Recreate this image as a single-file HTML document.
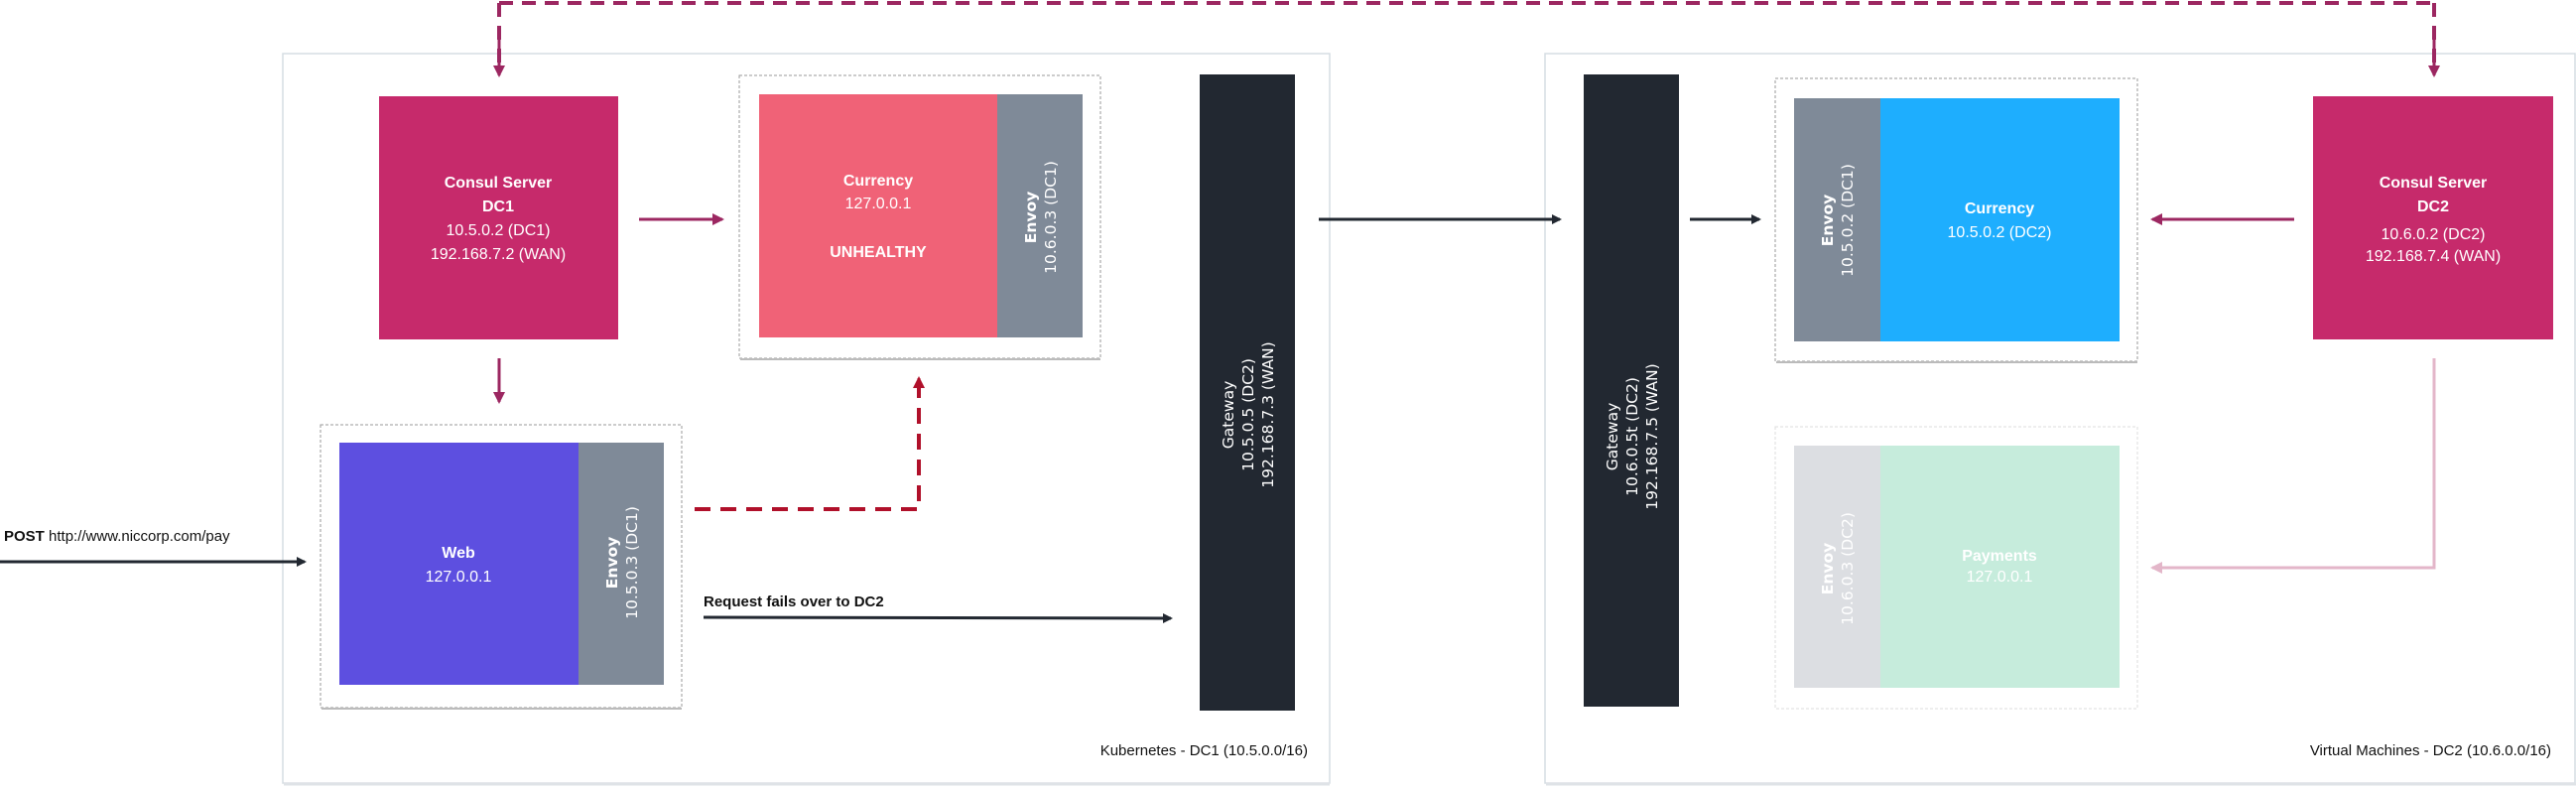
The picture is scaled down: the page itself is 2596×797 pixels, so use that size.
<!DOCTYPE html>
<html><head><meta charset="utf-8"><style>
html,body{margin:0;padding:0;background:#fff;}
svg{display:block;}
.c{font-family:"Liberation Sans",sans-serif;fill:#fff;text-anchor:middle;font-size:16px;}
.b{font-weight:bold;}
.r{font-family:"DejaVu Sans",sans-serif;text-anchor:middle;font-size:15.5px;fill:#fff;}
.l{font-family:"Liberation Sans",sans-serif;font-size:15px;fill:#111;}
</style></head><body>
<svg width="2596" height="797" viewBox="0 0 2596 797" xmlns="http://www.w3.org/2000/svg">
<defs>
<marker id="ad" markerWidth="10" markerHeight="10" refX="8" refY="5" orient="auto" markerUnits="userSpaceOnUse"><path d="M0,0 L10,5 L0,10 z" fill="#222831"/></marker>
<marker id="am" markerWidth="12" markerHeight="12" refX="10" refY="6" orient="auto" markerUnits="userSpaceOnUse"><path d="M0,0 L12,6 L0,12 z" fill="#9c2761"/></marker>
<marker id="ar" markerWidth="12" markerHeight="12" refX="10" refY="6" orient="auto" markerUnits="userSpaceOnUse"><path d="M0,0 L12,6 L0,12 z" fill="#b0102a"/></marker>
<marker id="ap" markerWidth="12" markerHeight="12" refX="10" refY="6" orient="auto" markerUnits="userSpaceOnUse"><path d="M0,0 L12,6 L0,12 z" fill="#e3b6c9"/></marker>
</defs>
<rect x="285" y="54" width="1055" height="735" fill="#fff" stroke="#d6dde3" stroke-width="1.5"/>
<line x1="286" y1="790" x2="1340" y2="790" stroke="#dfe3e7" stroke-width="3"/>
<rect x="1557" y="54" width="1038" height="735" fill="#fff" stroke="#d6dde3" stroke-width="1.5"/>
<line x1="1558" y1="790" x2="2596" y2="790" stroke="#dfe3e7" stroke-width="3"/>
<path d="M503,3 H2453 M503,3 V68 M2453,3 V68" fill="none" stroke="#9c2761" stroke-width="4" stroke-dasharray="14,9"/>
<line x1="503" y1="40" x2="503" y2="76" stroke="#9c2761" stroke-width="3" marker-end="url(#am)"/>
<line x1="2453" y1="40" x2="2453" y2="76" stroke="#9c2761" stroke-width="3" marker-end="url(#am)"/>
<rect x="382" y="97" width="241" height="245" fill="#c62a6b"/>
<text class="c"><tspan class="b" x="502" y="189">Consul Server</tspan><tspan class="b" x="502" y="213">DC1</tspan><tspan x="502" y="237">10.5.0.2 (DC1)</tspan><tspan x="502" y="261">192.168.7.2 (WAN)</tspan></text>
<rect x="745" y="76" width="364" height="285" fill="#fff" stroke="#999" stroke-dasharray="3,2"/>
<line x1="746" y1="362" x2="1109" y2="362" stroke="#bbb" stroke-width="2"/>
<rect x="765" y="95" width="240" height="245" fill="#f06277"/>
<rect x="1005" y="95" width="86" height="245" fill="#7f8a98"/>
<text class="c"><tspan class="b" x="885" y="187">Currency</tspan><tspan x="885" y="210">127.0.0.1</tspan><tspan class="b" x="885" y="259">UNHEALTHY</tspan></text>
<text class="r" transform="translate(1048,219) rotate(-90)"><tspan class="b" x="0" y="-4">Envoy</tspan><tspan x="0" y="16">10.6.0.3 (DC1)</tspan></text>
<line x1="644" y1="221" x2="728" y2="221" stroke="#9c2761" stroke-width="3" marker-end="url(#am)"/>
<line x1="503" y1="361" x2="503" y2="405" stroke="#9c2761" stroke-width="3" marker-end="url(#am)"/>
<rect x="323" y="428" width="364" height="285" fill="#fff" stroke="#999" stroke-dasharray="3,2"/>
<line x1="324" y1="714" x2="687" y2="714" stroke="#bbb" stroke-width="2"/>
<rect x="342" y="446" width="241" height="244" fill="#5d4fe0"/>
<rect x="583" y="446" width="86" height="244" fill="#7f8a98"/>
<text class="c"><tspan class="b" x="462" y="562">Web</tspan><tspan x="462" y="586">127.0.0.1</tspan></text>
<text class="r" transform="translate(626,567) rotate(-90)"><tspan class="b" x="0" y="-4">Envoy</tspan><tspan x="0" y="16">10.5.0.3 (DC1)</tspan></text>
<path d="M700,513 H926 V390" fill="none" stroke="#b0102a" stroke-width="4" stroke-dasharray="16,10"/>
<line x1="926" y1="395" x2="926" y2="381" stroke="#b0102a" stroke-width="3" marker-end="url(#ar)"/>
<text class="l" x="4" y="545"><tspan font-weight="bold">POST</tspan>  http://www.niccorp.com/pay</text>
<line x1="0" y1="566" x2="307" y2="566" stroke="#222831" stroke-width="3" marker-end="url(#ad)"/>
<text class="l" x="709" y="611" font-weight="bold">Request fails over to DC2</text>
<line x1="709" y1="622" x2="1180" y2="623" stroke="#222831" stroke-width="3" marker-end="url(#ad)"/>
<rect x="1209" y="75" width="96" height="641" fill="#222831"/>
<text class="r" transform="translate(1257,418) rotate(-90)"><tspan x="0" y="-14">Gateway</tspan><tspan x="0" y="6">10.5.0.5 (DC2)</tspan><tspan x="0" y="26">192.168.7.3 (WAN)</tspan></text>
<text class="l" x="1318" y="761" text-anchor="end">Kubernetes - DC1 (10.5.0.0/16)</text>
<line x1="1329" y1="221" x2="1572" y2="221" stroke="#222831" stroke-width="3" marker-end="url(#ad)"/>
<rect x="1596" y="75" width="96" height="637" fill="#222831"/>
<text class="r" transform="translate(1644,440) rotate(-90)"><tspan x="0" y="-14">Gateway</tspan><tspan x="0" y="6">10.6.0.5t (DC2)</tspan><tspan x="0" y="26">192.168.7.5 (WAN)</tspan></text>
<line x1="1703" y1="221" x2="1773" y2="221" stroke="#222831" stroke-width="3" marker-end="url(#ad)"/>
<rect x="1789" y="79" width="365" height="285" fill="#fff" stroke="#999" stroke-dasharray="3,2"/>
<line x1="1790" y1="365" x2="2154" y2="365" stroke="#bbb" stroke-width="2"/>
<rect x="1808" y="99" width="87" height="245" fill="#7f8a98"/>
<rect x="1895" y="99" width="241" height="245" fill="#1eaefe"/>
<text class="c"><tspan class="b" x="2015" y="215">Currency</tspan><tspan x="2015" y="239">10.5.0.2 (DC2)</tspan></text>
<text class="r" transform="translate(1851,222) rotate(-90)"><tspan class="b" x="0" y="-4">Envoy</tspan><tspan x="0" y="16">10.5.0.2 (DC1)</tspan></text>
<rect x="2331" y="97" width="242" height="245" fill="#c62a6b"/>
<text class="c"><tspan class="b" x="2452" y="189">Consul Server</tspan><tspan class="b" x="2452" y="213">DC2</tspan><tspan x="2452" y="241">10.6.0.2 (DC2)</tspan><tspan x="2452" y="263">192.168.7.4 (WAN)</tspan></text>
<line x1="2312" y1="221" x2="2169" y2="221" stroke="#9c2761" stroke-width="3" marker-end="url(#am)"/>
<rect x="1789" y="430" width="365" height="284" fill="#fff" stroke="#ddd" stroke-dasharray="3,2"/>
<rect x="1808" y="449" width="87" height="244" fill="#dcdee2"/>
<rect x="1895" y="449" width="241" height="244" fill="#c6ecdc"/>
<text class="c"><tspan class="b" x="2015" y="565">Payments</tspan><tspan x="2015" y="586">127.0.0.1</tspan></text>
<text class="r" transform="translate(1851,573) rotate(-90)"><tspan class="b" x="0" y="-4">Envoy</tspan><tspan x="0" y="16">10.6.0.3 (DC2)</tspan></text>
<path d="M2453,361 V572 H2175" fill="none" stroke="#e3b6c9" stroke-width="3"/>
<line x1="2180" y1="572" x2="2169" y2="572" stroke="#e3b6c9" stroke-width="3" marker-end="url(#ap)"/>
<text class="l" x="2571" y="761" text-anchor="end">Virtual Machines - DC2 (10.6.0.0/16)</text>
</svg>
</body></html>
